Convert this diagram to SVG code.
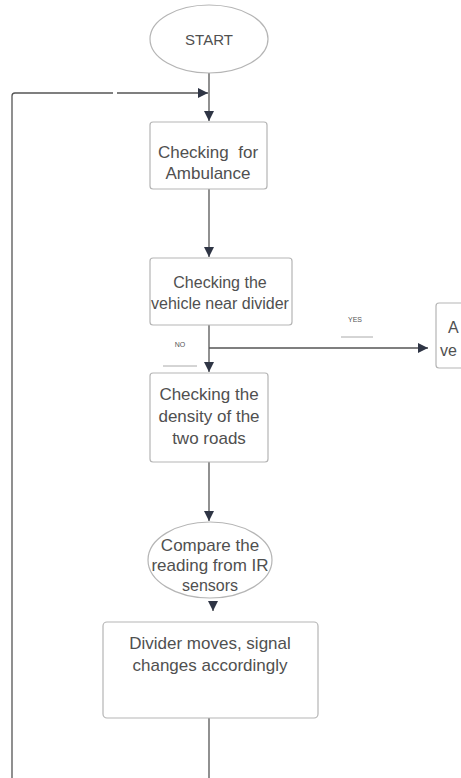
<svg xmlns="http://www.w3.org/2000/svg" width="461" height="778" viewBox="0 0 461 778">
<defs>
<marker id="ah" viewBox="0 0 10 10" refX="10" refY="5" markerWidth="10" markerHeight="10" markerUnits="userSpaceOnUse" orient="auto">
<path d="M0,0 L10,5 L0,10 z" fill="#2f3545"/>
</marker>
</defs>
<style>
.node{fill:#ffffff;stroke:#b5b5b5;stroke-width:1.2}
.t{font-family:"Liberation Sans",Arial,sans-serif;fill:#505050;text-anchor:middle}
.lbl{font-family:"Liberation Sans",Arial,sans-serif;fill:#555;font-size:7px;text-anchor:middle}
.edge{fill:none;stroke:#555;stroke-width:1.3}
.ul{stroke:#aaa;stroke-width:1}
</style>
<rect width="461" height="778" fill="#ffffff"/>
<g id="connectors">
<path class="edge" d="M209,73 V93"/>
<path class="edge" d="M209,93 V121" marker-end="url(#ah)"/>
<path class="edge" d="M12,778 V96 Q12,93 15,93 H113 M117,93 H208" marker-end="url(#ah)"/>
<path class="edge" d="M209,189 V257" marker-end="url(#ah)"/>
<path class="edge" d="M209,325 V372" marker-end="url(#ah)"/>
<path class="edge" d="M209,348 H428" marker-end="url(#ah)"/>
<path class="edge" d="M209,462 V521" marker-end="url(#ah)"/>
<path class="edge" d="M213,603 V611" marker-end="url(#ah)"/>
<path class="edge" d="M209,718 V778"/>
</g>
<g id="start">
<ellipse class="node" cx="209" cy="39" rx="59" ry="34"/>
<text class="t" x="209" y="45" font-size="15">START</text>
</g>
<g id="ambulance">
<rect class="node" x="150" y="122" width="117" height="67" rx="3"/>
<text class="t" x="208" y="158" font-size="17" xml:space="preserve">Checking  for</text>
<text class="t" x="208" y="179" font-size="17">Ambulance</text>
</g>
<g id="divider">
<rect class="node" x="150" y="258" width="142" height="67" rx="3"/>
<text class="t" x="220" y="288" font-size="16">Checking the</text>
<text class="t" x="220" y="309" font-size="16">vehicle near divider</text>
</g>
<g id="label-no">
<text class="lbl" x="180" y="347">NO</text>
<line class="ul" x1="163" y1="366" x2="197" y2="366"/>
</g>
<g id="label-yes">
<text class="lbl" x="355" y="322">YES</text>
<line class="ul" x1="341" y1="337" x2="373" y2="337"/>
</g>
<g id="right-box">
<rect class="node" x="436" y="303" width="40" height="65" rx="3"/>
<text class="t" x="448" y="333" font-size="16" style="text-anchor:start">A</text>
<text class="t" x="440" y="356" font-size="16" style="text-anchor:start">ve</text>
</g>
<g id="density">
<rect class="node" x="150" y="373" width="118" height="89" rx="3"/>
<text class="t" x="209" y="400" font-size="17">Checking the</text>
<text class="t" x="209" y="422" font-size="17">density of the</text>
<text class="t" x="209" y="444" font-size="17">two roads</text>
</g>
<g id="compare">
<ellipse class="node" cx="210" cy="560" rx="62" ry="38"/>
<text class="t" x="210" y="551" font-size="17">Compare the</text>
<text class="t" x="210" y="571" font-size="17">reading from IR</text>
<text class="t" x="210" y="591" font-size="16">sensors</text>
</g>
<g id="signal">
<rect class="node" x="103" y="622" width="215" height="96" rx="4"/>
<text class="t" x="210" y="649" font-size="17">Divider moves, signal</text>
<text class="t" x="210" y="671" font-size="17">changes accordingly</text>
</g>
</svg>
